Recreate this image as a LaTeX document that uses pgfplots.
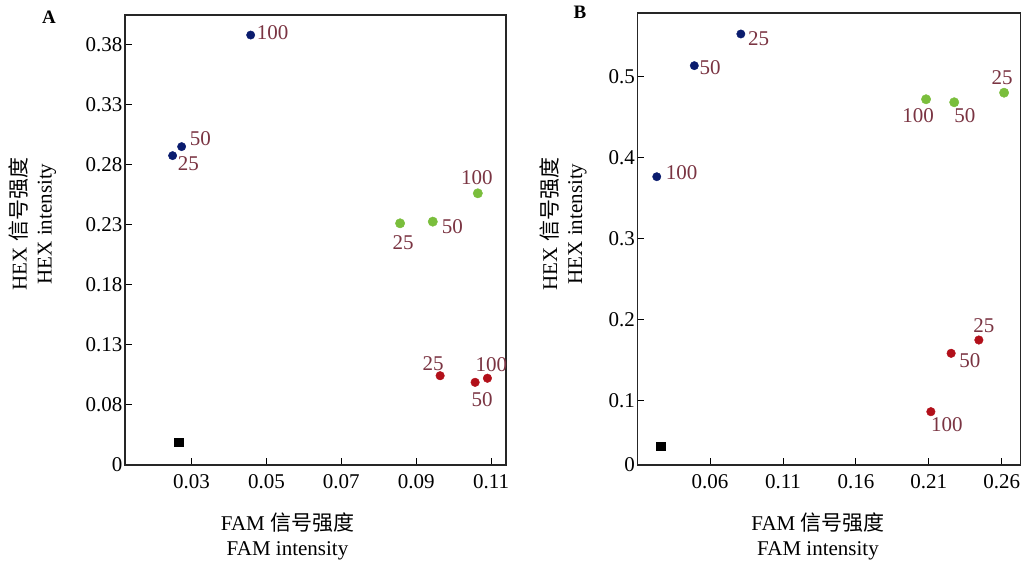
\documentclass[border=0pt]{standalone}
\usepackage{pgfplots}
\pgfplotsset{compat=1.18}
\usepackage{fontspec}
\setmainfont{Liberation Serif}
\newfontfamily\cjk{Noto Sans CJK SC}
\definecolor{cblue}{RGB}{10,28,110}
\definecolor{cgreen}{RGB}{122,190,60}
\definecolor{cred}{RGB}{178,16,26}
\definecolor{clbl}{RGB}{122,52,66}
\newcommand\fz{\fontsize{21}{25}\selectfont}
\pgfplotsset{
  myax/.style={
    scale only axis,
    anchor=south west,
    axis line style={line width=1.3pt, black!85},
    tick align=inside,
    tick pos=left,
    major tick length=7pt,
    tick style={line width=1pt, black},
    tick label style={font=\fz},
    /pgf/number format/assume math mode=true,
    xticklabel style={yshift=-6pt},
    yticklabel style={xshift=1pt},
    clip=false,
  },
  pb/.style={only marks, mark=*, mark size=4.2pt, mark options={draw=cblue, fill=cblue}},
  pg/.style={only marks, mark=*, mark size=4.7pt, mark options={draw=cgreen, fill=cgreen}},
  pr/.style={only marks, mark=*, mark size=4.3pt, mark options={draw=cred, fill=cred}},
  pk/.style={only marks, mark=square*, mark size=4.2pt, mark options={draw=black, fill=black}},
}
\tikzset{lbl/.style={font=\fz, text=clbl, inner sep=0pt}}
\begin{document}
\begin{tikzpicture}[x=1pt,y=1pt]
\useasboundingbox (0,0) rectangle (1027,562);
% ---------- Panel A ----------
\begin{axis}[myax,
  at={(125pt,97pt)}, width=381pt, height=450pt,
  xmin=0.0122, xmax=0.114, ymin=0.03, ymax=0.405,
  xtick={0.03,0.05,0.07,0.09,0.11},
  xticklabels={0.03,0.05,0.07,0.09,0.11},
  ytick={0.03,0.08,0.13,0.18,0.23,0.28,0.33,0.38},
  yticklabels={0,0.08,0.13,0.18,0.23,0.28,0.33,0.38},
]
\addplot[pb] coordinates {(0.04578,0.3883) (0.02733,0.2953) (0.02492,0.2878)};
\addplot[pg] coordinates {(0.10647,0.2564) (0.09444,0.2328) (0.0857,0.2314)};
\addplot[pr] coordinates {(0.0964,0.1044) (0.10575,0.0989) (0.10904,0.1023)};
\addplot[pk] coordinates {(0.0266,0.0489)};
\node[lbl, anchor=west, xshift=6pt, yshift=2pt] at (axis cs:0.04578,0.3883) {100};
\node[lbl, anchor=west, xshift=8pt, yshift=8pt] at (axis cs:0.02733,0.2953) {50};
\node[lbl, anchor=west, xshift=5pt, yshift=-8pt] at (axis cs:0.02492,0.2878) {25};
\node[lbl, anchor=south, xshift=-1pt, yshift=8pt] at (axis cs:0.10647,0.2564) {100};
\node[lbl, anchor=west, xshift=9pt, yshift=-5pt] at (axis cs:0.09444,0.2328) {50};
\node[lbl, anchor=north, xshift=3pt, yshift=-12pt] at (axis cs:0.0857,0.2314) {25};
\node[lbl, anchor=south, xshift=-7pt, yshift=5pt] at (axis cs:0.0964,0.1044) {25};
\node[lbl, anchor=north, xshift=7pt, yshift=-10pt] at (axis cs:0.10575,0.0989) {50};
\node[lbl, anchor=south, xshift=4pt, yshift=6pt] at (axis cs:0.10904,0.1023) {100};
\end{axis}
% ---------- Panel B ----------
\begin{axis}[myax,
  at={(637.3pt,97pt)}, width=383.4pt, height=452pt,
  xmin=0.0101, xmax=0.273, ymin=0.0206, ymax=0.5786,
  xtick={0.06,0.11,0.16,0.21,0.26},
  xticklabels={0.06,0.11,0.16,0.21,0.26},
  ytick={0.0206,0.1,0.2,0.3,0.4,0.5},
  yticklabels={0,0.1,0.2,0.3,0.4,0.5},
]
\addplot[pb] coordinates {(0.0811,0.5527) (0.0492,0.5136) (0.02344,0.3765)};
\addplot[pg] coordinates {(0.2081,0.4721) (0.2274,0.4684) (0.2616,0.4802)};
\addplot[pr] coordinates {(0.2443,0.1749) (0.2253,0.1585) (0.2114,0.0864)};
\addplot[pk] coordinates {(0.0262,0.0441)};
\node[lbl, anchor=west, xshift=7pt, yshift=-5pt] at (axis cs:0.0811,0.5527) {25};
\node[lbl, anchor=west, xshift=5pt, yshift=-2pt] at (axis cs:0.0492,0.5136) {50};
\node[lbl, anchor=west, xshift=9pt, yshift=4pt] at (axis cs:0.02344,0.3765) {100};
\node[lbl, anchor=north, xshift=-8pt, yshift=-9pt] at (axis cs:0.2081,0.4721) {100};
\node[lbl, anchor=north west, xshift=0pt, yshift=-6pt] at (axis cs:0.2274,0.4684) {50};
\node[lbl, anchor=south, xshift=-2pt, yshift=8pt] at (axis cs:0.2616,0.4802) {25};
\node[lbl, anchor=south, xshift=5pt, yshift=7pt] at (axis cs:0.2443,0.1749) {25};
\node[lbl, anchor=west, xshift=8pt, yshift=-7pt] at (axis cs:0.2253,0.1585) {50};
\node[lbl, anchor=north west, xshift=0pt, yshift=-6pt] at (axis cs:0.2114,0.0864) {100};
\end{axis}
% ---------- labels ----------
\node[font=\fz, align=center, rotate=90] at (32.5,338) {HEX {\cjk 信号强度}\\HEX intensity};
\node[font=\fz, align=center, rotate=90] at (563,338) {HEX {\cjk 信号强度}\\HEX intensity};
\node[font=\fz, align=center] at (287.5,25.5) {FAM {\cjk 信号强度}\\FAM intensity};
\node[font=\fz, align=center] at (818,25.5) {FAM {\cjk 信号强度}\\FAM intensity};
\node[font=\fontsize{19}{22}\selectfont\bfseries] at (49,545) {A};
\node[font=\fontsize{19}{22}\selectfont\bfseries] at (580,550) {B};
\end{tikzpicture}
\end{document}
